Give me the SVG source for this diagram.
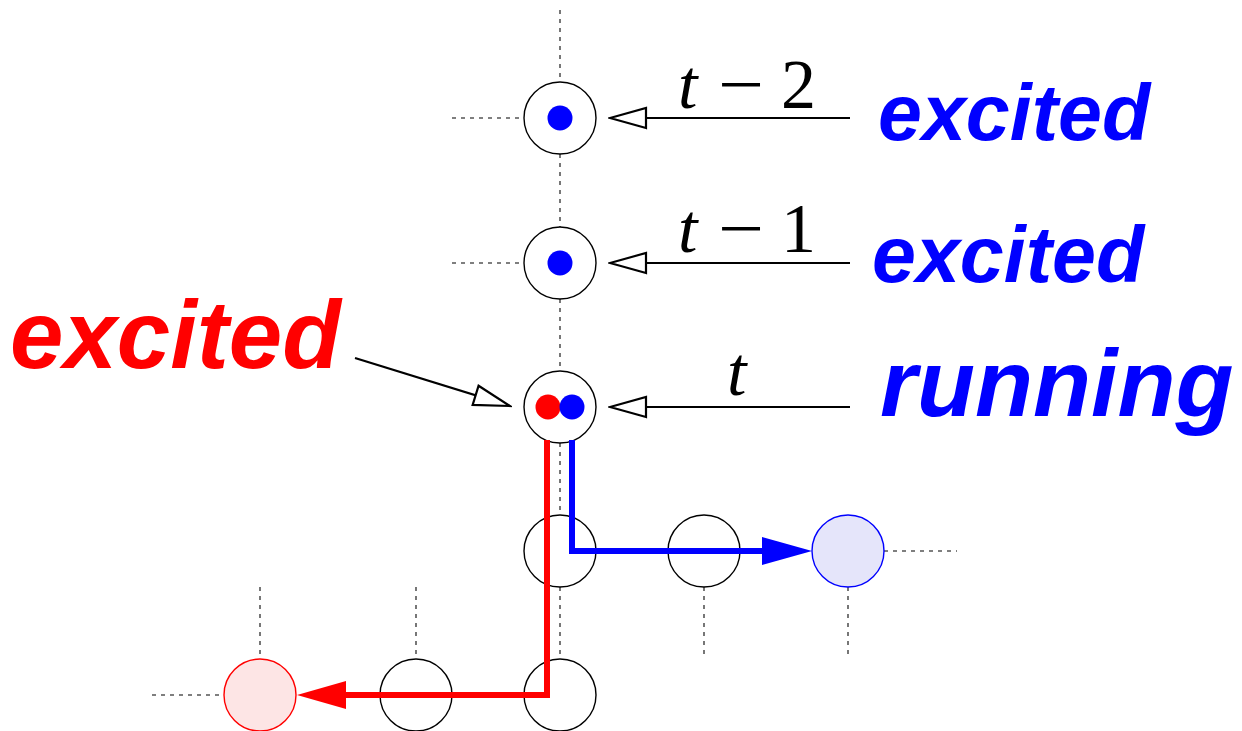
<svg xmlns="http://www.w3.org/2000/svg" width="1242" height="731" viewBox="0 0 1242 731">
<style>
.dot{stroke:#555;stroke-width:1.6;stroke-dasharray:4 5;fill:none}
.node{fill:#fff;stroke:#000;stroke-width:1.4}
.math{font-family:"Liberation Serif",serif;font-size:70px;fill:#000}
.lbl{font-family:"Liberation Sans",Arial,sans-serif;font-weight:bold;font-style:italic}
.blk{stroke:#000;stroke-width:2.2;fill:none}
</style>
<defs>
<marker id="open" markerUnits="userSpaceOnUse" viewBox="-2 -2 40 24" refX="36" refY="10" markerWidth="40" markerHeight="24" orient="auto">
<path d="M0,0 L36,10 L0,20 Z" fill="#fff" stroke="#000" stroke-width="2.2"/>
</marker>
</defs>
<g id="grid">
<line class="dot" x1="560" y1="10" x2="560" y2="82"/>
<line class="dot" x1="560" y1="154" x2="560" y2="227"/>
<line class="dot" x1="560" y1="299" x2="560" y2="371"/>
<line class="dot" x1="560" y1="443" x2="560" y2="515"/>
<line class="dot" x1="560" y1="587" x2="560" y2="659"/>
<line class="dot" x1="452" y1="118" x2="524" y2="118"/>
<line class="dot" x1="452" y1="263" x2="524" y2="263"/>
<line class="dot" x1="260" y1="587" x2="260" y2="659"/>
<line class="dot" x1="416" y1="587" x2="416" y2="659"/>
<line class="dot" x1="152" y1="695" x2="224" y2="695"/>
<line class="dot" x1="704" y1="587" x2="704" y2="659"/>
<line class="dot" x1="848" y1="587" x2="848" y2="659"/>
<line class="dot" x1="884" y1="551" x2="957" y2="551"/>
</g>
<g id="n1"><circle class="node" cx="560" cy="118" r="36"/><circle cx="560" cy="118" r="12.5" fill="#0000ff"/></g>
<g id="n2"><circle class="node" cx="560" cy="263" r="36"/><circle cx="560" cy="263" r="12.5" fill="#0000ff"/></g>
<g id="n3"><circle class="node" cx="560" cy="407" r="36"/><circle cx="548" cy="407" r="12.5" fill="#ff0000"/><circle cx="572" cy="407" r="12.5" fill="#0000ff"/></g>
<g id="n4"><circle class="node" cx="560" cy="551" r="36"/></g>
<g id="n5"><circle class="node" cx="704" cy="551" r="36"/></g>
<g id="n6"><circle cx="848" cy="551" r="36" fill="#e5e5fa" stroke="#0000ff" stroke-width="1.4"/></g>
<g id="n7"><circle class="node" cx="560" cy="695" r="36"/></g>
<g id="n8"><circle class="node" cx="416" cy="695" r="36"/></g>
<g id="n9"><circle cx="260" cy="695" r="36" fill="#fde5e5" stroke="#ff0000" stroke-width="1.4"/></g>
<g id="connectors">
<line class="blk" x1="850" y1="118" x2="610" y2="118" marker-end="url(#open)"/>
<line class="blk" x1="850" y1="263" x2="610" y2="263" marker-end="url(#open)"/>
<line class="blk" x1="850" y1="407" x2="610" y2="407" marker-end="url(#open)"/>
<line class="blk" x1="355" y1="358" x2="510" y2="406" marker-end="url(#open)"/>
<path d="M547,440 V695 H344" fill="none" stroke="#ff0000" stroke-width="6" stroke-linejoin="miter"/>
<polygon points="297,695 346,681 346,709" fill="#ff0000"/>
<path d="M572,440 V551 H764" fill="none" stroke="#0000ff" stroke-width="6" stroke-linejoin="miter"/>
<polygon points="812,551 762,537 762,565" fill="#0000ff"/>
</g>
<g id="labels">
<text class="math" x="678" y="108" font-style="italic">t</text>
<text class="math" x="718" y="108" textLength="46" lengthAdjust="spacingAndGlyphs">−</text>
<text class="math" x="781" y="108">2</text>
<text class="math" x="678" y="252" font-style="italic">t</text>
<text class="math" x="718" y="252" textLength="46" lengthAdjust="spacingAndGlyphs">−</text>
<text class="math" x="781" y="252">1</text>
<text class="math" x="727" y="395" font-style="italic">t</text>
<text class="lbl" x="878" y="140" font-size="79" fill="#0000ff">excited</text>
<text class="lbl" x="872" y="282" font-size="79" fill="#0000ff">excited</text>
<text class="lbl" x="880" y="416" font-size="95" fill="#0000ff">running</text>
<text class="lbl" x="10" y="368" font-size="96" fill="#ff0000">excited</text>
</g>
</svg>
